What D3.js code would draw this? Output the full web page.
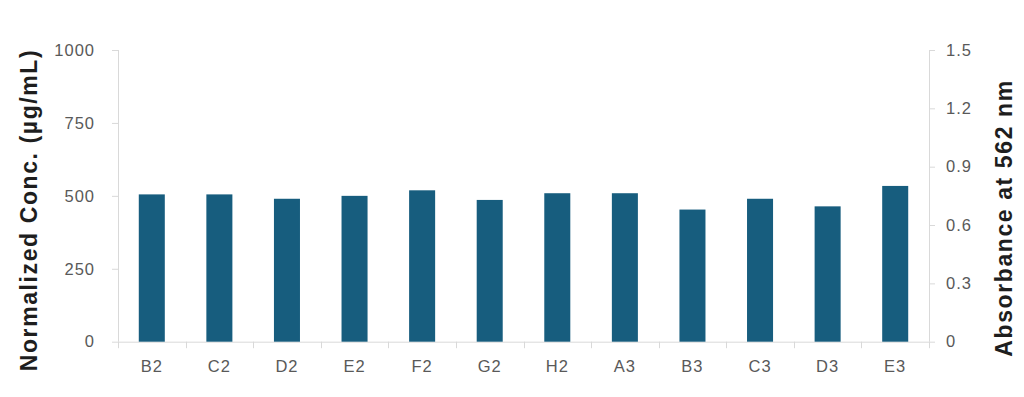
<!DOCTYPE html>
<meta charset="utf-8">
<style>
body { margin: 0; background: #ffffff; }
.tick text { font-family: "Liberation Sans", Arial, sans-serif; font-size: 16.5px; fill: #595959; letter-spacing: 1px; }
.axis path, .axis line { stroke: #d9d9d9; }
.title { font-family: "Liberation Sans", Arial, sans-serif; font-size: 23px; font-weight: 700; fill: #1e1e1e; letter-spacing: 1.6px; }
</style>
<script src="https://d3js.org/d3.v7.min.js"></script>

<div id="chart"></div>

<script>
// wells on the plate and their normalized concentrations (ug/mL)
var wells = ["B2", "C2", "D2", "E2", "F2", "G2", "H2", "A3", "B3", "C3", "D3", "E3"];
var conc = [505, 505, 490, 500, 519, 486, 509, 509, 453, 490, 464, 534];
var leftTicks = [0, 250, 500, 750, 1000];
var rightTicks = [0, 0.3, 0.6, 0.9, 1.2, 1.5];

var data = wells.map(function(w, i) { return {well: w, conc: conc[i]}; });

var margin = {top: 50, right: 95, bottom: 55.3, left: 118},
    width = 1024 - margin.left - margin.right,
    height = 397 - margin.top - margin.bottom;

var svg = d3.select("#chart")
  .append("svg")
    .attr("width", 1024)
    .attr("height", 397)
  .append("g")
    .attr("transform", "translate(" + margin.left + "," + margin.top + ")");

// X axis
var x = d3.scaleBand()
  .range([0, width])
  .domain(wells)
  .padding(0);

var xAxis = d3.axisBottom(x).tickSize(0).tickPadding(19);
var gx = svg.append("g")
  .attr("class", "axis")
  .attr("transform", "translate(0," + height + ")")
  .call(xAxis);
gx.select(".domain").attr("d", "M0,0.5H" + width);
// tick marks sit on the band edges
gx.selectAll(".edge")
  .data(d3.range(wells.length + 1))
  .enter()
  .append("line")
    .attr("class", "edge")
    .attr("x1", function(i) { return Math.round(i * x.step()) + 0.5; })
    .attr("x2", function(i) { return Math.round(i * x.step()) + 0.5; })
    .attr("y1", 0)
    .attr("y2", 6.5);

// left Y axis
var y = d3.scaleLinear()
  .domain([0, 1000])
  .range([height, 0]);
var gy = svg.append("g")
  .attr("class", "axis")
  .call(d3.axisLeft(y).tickValues(leftTicks).tickSizeOuter(0).tickSize(6).tickPadding(17)
    .tickFormat(d3.format("d")));
gy.select(".domain").attr("d", "M0.5," + y(1000) + "V" + height);

// right Y axis
var y2 = d3.scaleLinear()
  .domain([0, 1.5])
  .range([height, 0]);
var gy2 = svg.append("g")
  .attr("class", "axis")
  .attr("transform", "translate(" + width + ",0)")
  .call(d3.axisRight(y2).tickValues(rightTicks).tickSizeOuter(0).tickSize(6).tickPadding(11)
    .tickFormat(function(d) { return d === 0 ? "0" : d.toFixed(1); }));
gy2.select(".domain").attr("d", "M0.5," + y2(1.5) + "V" + height);

svg.selectAll(".domain").attr("fill", "none");

// axis titles
svg.append("text")
  .attr("class", "title")
  .attr("transform", "translate(" + (37 - margin.left) + "," + (210 - margin.top) + ") rotate(-90)")
  .style("text-anchor", "middle")
  .text("Normalized Conc. (µg/mL)");

svg.append("text")
  .attr("class", "title")
  .attr("transform", "translate(" + (1012 - margin.left) + "," + (218 - margin.top) + ") rotate(-90)")
  .style("text-anchor", "middle")
  .text("Absorbance at 562 nm");

// Bars
var barW = x.bandwidth() * 0.385;
svg.selectAll("bar")
  .data(data)
  .enter()
  .append("rect")
    .attr("x", function(d) { return x(d.well) + (x.bandwidth() - barW) / 2; })
    .attr("width", barW)
    .attr("y", function(d) { return y(d.conc); })
    .attr("height", function(d) { return height - y(d.conc); })
    .attr("fill", "#175d7e");
</script>
